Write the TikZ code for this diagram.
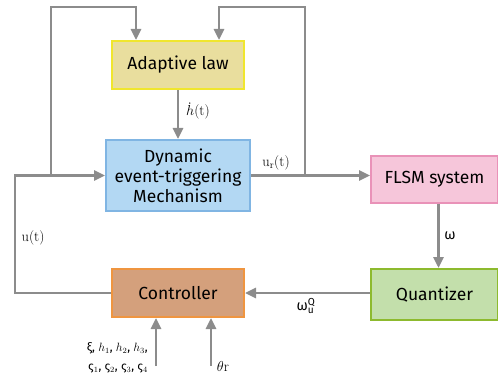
\documentclass[tikz,border=0pt]{standalone}
\usepackage{fontspec}
\setmainfont{Fira Sans}
\newfontfamily\serifg{Latin Modern Roman}
\usetikzlibrary{arrows.meta,calc}
\definecolor{lgray}{HTML}{8C8C8C}
\definecolor{adfill}{HTML}{E9DE9E}
\definecolor{addraw}{HTML}{F0E62E}
\definecolor{dtfill}{HTML}{B3D8F3}
\definecolor{dtdraw}{HTML}{80B5E3}
\definecolor{flfill}{HTML}{F6C6DA}
\definecolor{fldraw}{HTML}{E992B8}
\definecolor{qufill}{HTML}{C3DFAB}
\definecolor{qudraw}{HTML}{8DBA2E}
\definecolor{ctfill}{HTML}{D4A07C}
\definecolor{ctdraw}{HTML}{EF9540}
\tikzset{
  blk/.style={draw, line width=2pt, rectangle, align=center, font=\fontsize{17.5}{20}\selectfont, inner sep=0pt},
  conn/.style={draw=lgray, line width=2.6pt},
  arr/.style={conn, -{Triangle[length=11pt,width=10pt]}},
  lbl/.style={font=\fontsize{14.5}{17}\selectfont, inner sep=0pt}
}
\begin{document}
\begin{tikzpicture}[x=1pt,y=-1pt]
\useasboundingbox (0,0) rectangle (498,382);
\node[blk, fill=adfill, draw=addraw, minimum width=132pt, minimum height=48pt] (adapt) at (178,65) {Adaptive law};
\node[blk, fill=dtfill, draw=dtdraw, minimum width=144pt, minimum height=71pt] (det) at (178,175.5) {Dynamic\\event-triggering\\Mechanism};
\node[blk, fill=flfill, draw=fldraw, minimum width=127pt, minimum height=47pt] (flsm) at (434.5,179.5) {FLSM system};
\node[blk, fill=qufill, draw=qudraw, minimum width=127pt, minimum height=51pt] (quant) at (434.5,294.5) {Quantizer};
\node[blk, fill=ctfill, draw=ctdraw, minimum width=132pt, minimum height=48pt] (ctrl) at (178,293) {Controller};

\coordinate (j1) at (51,175.5);
\coordinate (tl) at (51,7);
\coordinate (j2) at (305,175.5);
\coordinate (tr) at (305,7);
\coordinate (c1) at (15,293);
\coordinate (in1) at (156,366);
\coordinate (in2) at (211,366);

\draw[arr] (adapt.south) -- (det.north);
\node[lbl, anchor=west] (hlab) at (186,111) {$\dot{h}$\serifg(t)};
\draw[arr] (j1) -- (tl) -| ([xshift=-42pt]adapt.north);
\draw[arr] (j2) -- (tr) -| ([xshift=41pt]adapt.north);
\draw[arr] (ctrl.west) -- (c1) |- (det.west);
\draw[arr] (det.east) -- (det.east -| flsm.west);
\draw[arr] ([xshift=4pt]flsm.south) -- ([xshift=4pt]quant.north);
\node[lbl] (wlab) at (450,236) {ω};
\draw[arr] (quant.west |- ctrl.east) -- (ctrl.east);
\draw[arr] (in1) -- (in1 |- ctrl.south);
\draw[arr] (in2) -- (in2 |- ctrl.south);

\node[lbl] (ulab) at (33,238) {\serifg u(t)};
\node[lbl] (urlab) at (276,163) {\serifg u\textsubscript{r}(t)};
\node[lbl] (wq) at (306,306) {ω\rlap{$^{\mathrm{Q}}_{\mathrm{u}}$}\phantom{$^{\mathrm{Q}}$}};
\node[lbl, anchor=east] (p1) at (148,348) {\fontsize{12}{14}\selectfont ξ, $h_1$, $h_2$, $h_3$,};
\node[lbl, anchor=east] (p2) at (148,369) {\fontsize{12}{14}\selectfont ς$_1$, ς$_2$, ς$_3$, ς$_4$};
\node[lbl] (th) at (223,366) {$\theta$\serifg r};
\end{tikzpicture}
\end{document}
